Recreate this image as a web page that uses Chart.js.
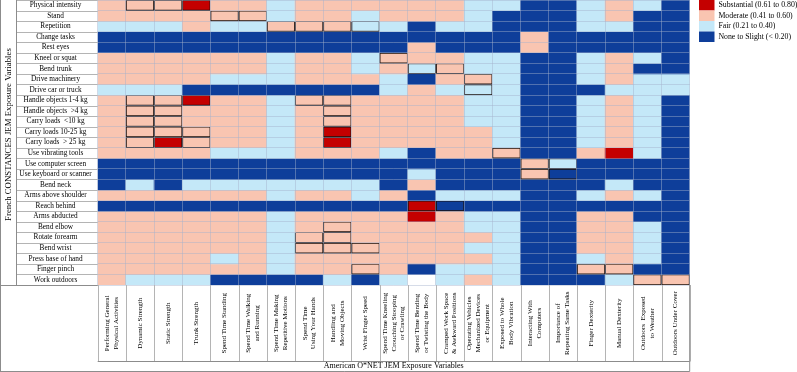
<!DOCTYPE html>
<html>
<head>
<meta charset="utf-8">
<script src="https://cdn.jsdelivr.net/npm/chart.js@4.4.1/dist/chart.umd.min.js"></script>
<style>
  html, body { margin: 0; padding: 0; background: #fff; }
  #wrap { width: 797px; height: 372px; }
</style>
</head>
<body>
<div id="wrap"><canvas id="chart" width="797" height="372"></canvas></div>
<script>
// French CONSTANCES JEM variables (rows)
const rowLabels = [
  'Physical intensity', 'Stand', 'Repetition', 'Change tasks', 'Rest eyes',
  'Kneel or squat', 'Bend trunk', 'Drive machinery', 'Drive car or truck',
  'Handle objects 1-4 kg', 'Handle objects  >4 kg', 'Carry loads  <10 kg',
  'Carry loads 10-25 kg', 'Carry loads  > 25 kg', 'Use vibrating tools',
  'Use computer screen', 'Use keyboard or scanner', 'Bend neck',
  'Arms above shoulder', 'Reach behind', 'Arms abducted', 'Bend elbow',
  'Rotate forearm', 'Bend wrist', 'Press base of hand', 'Finger pinch', 'Work outdoors'
];

// American O*NET JEM variables (columns), one entry per printed line
const colLabels = [
  ['Performing General', 'Physical Activities'],
  ['Dynamic Strength'],
  ['Static Strength'],
  ['Trunk Strength'],
  ['Spend Time Standing'],
  ['Spend Time Walking', 'and Running'],
  ['Spend Time Making', 'Repetitive Motions'],
  ['Spend Time', 'Using Your Hands'],
  ['Handling and', 'Moving Objects'],
  ['Wrist Finger Speed'],
  ['Spend Time Kneeling', 'Crouching Stooping', 'or Crawling'],
  ['Spend Time Bending', 'or Twisting the Body'],
  ['Cramped Work Space', '& Awkward Positions'],
  ['Operating Vehicles', 'Mechanized Devices', 'or Equipment'],
  ['Exposed to Whole', 'Body Vibration'],
  ['Interacting With', 'Computers'],
  ['Importance of', 'Repeating Same Tasks'],
  ['Finger Dexterity'],
  ['Manual Dexterity'],
  ['Outdoors  Exposed', 'to Weather'],
  ['Outdoors Under Cover']
];

const rowTitle = 'French CONSTANCES JEM Exposure Variables';
const colTitle = 'American O*NET JEM Exposure Variables';

const levelNames = ['None to Slight (< 0.20)', 'Fair (0.21 to 0.40)', 'Moderate (0.41 to 0.60)', 'Substantial (0.61 to 0.80)'];
const levelColors = ['#0e3e9a', '#c4e8f8', '#f9c5b1', '#c40000'];

// agreement level per cell: 0 none-slight, 1 fair, 2 moderate, 3 substantial, -1 missing
const agreement = [
  [2,2,2,3,2,2,1,2,2,2,2,2,2,1,1,0,0,1,2,1,0],
  [2,2,2,2,2,2,1,2,2,1,2,2,2,1,0,0,0,1,2,0,0],
  [1,1,1,2,1,1,2,2,2,1,1,0,1,1,0,0,0,1,1,0,0],
  [0,0,0,0,0,0,0,0,0,0,0,0,0,0,0,2,0,0,0,0,0],
  [0,0,0,0,0,0,0,0,0,0,0,2,0,0,0,2,0,0,0,0,0],
  [2,2,2,2,2,2,1,2,2,1,2,2,2,1,1,0,0,1,2,1,0],
  [2,2,2,2,2,2,1,2,2,1,2,1,2,1,1,0,0,1,2,0,0],
  [2,2,2,2,1,1,1,2,2,2,1,0,2,2,1,0,0,1,2,1,1],
  [1,1,1,0,0,0,0,0,0,0,1,2,1,1,1,0,0,0,1,1,1],
  [2,2,2,3,2,2,1,2,2,2,2,2,2,1,1,0,0,1,2,1,0],
  [2,2,2,2,2,2,1,2,2,2,2,2,2,1,1,0,0,1,2,1,0],
  [2,2,2,2,2,2,1,2,2,2,2,2,2,1,1,0,0,1,2,1,0],
  [2,2,2,2,2,2,1,2,3,2,2,2,2,2,1,0,0,1,2,1,0],
  [2,2,3,2,2,2,1,2,3,2,2,2,2,2,1,0,0,1,2,1,0],
  [2,2,2,2,1,1,1,2,2,2,1,0,2,2,2,0,0,2,3,1,0],
  [0,0,0,0,0,0,0,0,0,0,0,0,0,0,0,2,1,0,0,0,0],
  [0,0,0,0,0,0,0,0,0,0,0,1,0,0,0,2,0,0,0,0,0],
  [0,1,0,1,1,1,1,1,1,1,0,2,0,0,0,0,0,0,1,0,0],
  [2,2,2,2,2,2,1,2,2,1,2,0,1,1,1,0,0,1,2,1,0],
  [0,0,0,0,0,0,0,0,0,0,0,3,0,0,0,0,0,0,0,0,0],
  [2,2,2,2,2,2,1,2,2,2,2,3,2,1,1,0,0,2,2,0,0],
  [2,2,2,2,2,2,1,2,2,2,2,2,2,1,1,0,0,2,2,1,0],
  [2,2,2,2,2,2,1,2,2,2,2,2,2,2,1,0,0,2,2,1,0],
  [2,2,2,2,2,2,1,2,2,2,2,2,2,1,1,0,0,2,2,1,0],
  [2,2,2,2,1,2,1,2,2,2,2,2,2,2,1,0,0,1,2,1,0],
  [2,2,2,2,2,2,1,2,2,2,2,0,1,1,1,0,0,2,2,0,0],
  [2,1,1,1,0,0,0,0,1,0,1,-1,1,2,1,0,0,0,1,2,2]
];

// expected matches (cells drawn with a dark outline), column indexes per row
const boxedCells = [
  [1,2,3], [4,5], [6,7,8,9], [], [], [10], [11,12], [13], [13],
  [1,2,3,7,8], [1,2,8], [1,2,8], [1,2,3,8], [1,2,3,8], [14],
  [15,16], [15,16], [], [], [11,12], [], [8], [7,8], [7,8,9], [],
  [9,17,18], [19,20]
];

Chart.defaults.font.family = "'Liberation Serif', 'Times New Roman', serif";
Chart.defaults.color = '#000';

const gridColor = 'rgba(165,178,205,0.45)';

const datasets = rowLabels.map((name, r) => ({
  label: name,
  data: colLabels.map(() => [r, r + 1]),
  backgroundColor: agreement[r].map(v => v < 0 ? '#ffffff' : levelColors[v]),
  borderColor: colLabels.map((_, c) => boxedCells[r].includes(c) ? '#1c120e' : 'rgba(0,0,0,0)'),
  borderWidth: colLabels.map((_, c) => boxedCells[r].includes(c) ? 1.2 : 0),
  borderSkipped: false,
  grouped: false,
  barPercentage: 1,
  categoryPercentage: 1
}));

// table frame, rotated column headings and row-axis title
const tableFrame = {
  id: 'tableFrame',
  afterDraw(chart) {
    const {ctx, chartArea: a, scales} = chart;
    const x = scales.x, y = scales.y;
    const labelLeft = 16.5, headBottom = 361.5, frameBottom = 371.5;
    ctx.save();
    ctx.lineWidth = 1;
    ctx.strokeStyle = '#b4b4b4';
    ctx.beginPath();
    for (let r = 0; r <= rowLabels.length; r++) {
      const py = Math.round(y.getPixelForValue(r)) + 0.5;
      ctx.moveTo(labelLeft, py);
      ctx.lineTo(a.left, py);
    }
    for (let c = 0; c <= colLabels.length; c++) {
      const px = Math.round(x.getPixelForValue(c - 0.5)) + 0.5;
      ctx.moveTo(px, a.bottom);
      ctx.lineTo(px, headBottom);
    }
    ctx.stroke();
    ctx.strokeStyle = '#8c8c8c';
    ctx.beginPath();
    ctx.moveTo(labelLeft, a.top); ctx.lineTo(labelLeft, a.bottom + 0.5);
    ctx.moveTo(0.5, a.top); ctx.lineTo(0.5, frameBottom);
    ctx.moveTo(0, a.bottom + 0.5); ctx.lineTo(a.left, a.bottom + 0.5);
    ctx.moveTo(a.left, headBottom); ctx.lineTo(a.right, headBottom);
    ctx.moveTo(0, frameBottom); ctx.lineTo(a.right, frameBottom);
    ctx.moveTo(a.right, a.bottom); ctx.lineTo(a.right, frameBottom);
    ctx.stroke();

    ctx.fillStyle = '#000';
    ctx.textAlign = 'center';
    ctx.textBaseline = 'middle';

    ctx.save();
    ctx.font = "8.8px 'Liberation Serif', serif";
    ctx.translate(9, 134.5);
    ctx.rotate(-Math.PI / 2);
    ctx.fillText(rowTitle, 0, 0);
    ctx.restore();

    ctx.font = "7px 'Liberation Serif', serif";
    const midY = (a.bottom + headBottom) / 2;
    colLabels.forEach((lines, c) => {
      const px = x.getPixelForValue(c);
      ctx.save();
      ctx.translate(px, midY);
      ctx.rotate(-Math.PI / 2);
      lines.forEach((t, k) => ctx.fillText(t, 0, (k - (lines.length - 1) / 2) * 8.8));
      ctx.restore();
    });
    ctx.restore();
  }
};

new Chart(document.getElementById('chart'), {
  type: 'bar',
  data: { labels: colLabels.map(l => l.join(' ')), datasets },
  options: {
    responsive: false,
    animation: false,
    layout: { padding: 0 },
    plugins: {
      tooltip: { enabled: false },
      legend: {
        position: 'right',
        align: 'start',
        maxWidth: 98,
        onClick: null,
        labels: {
          boxWidth: 15.5,
          boxHeight: 10.5,
          padding: 0,
          color: '#000',
          font: { size: 7.8 },
          generateLabels: () => [3, 2, 1, 0].map(i => ({
            text: levelNames[i],
            fillStyle: levelColors[i],
            strokeStyle: levelColors[i],
            lineWidth: 0,
            hidden: false
          }))
        }
      }
    },
    scales: {
      x: {
        type: 'category',
        offset: true,
        grid: { offset: true, color: gridColor, drawTicks: false, z: 1 },
        border: { display: false },
        ticks: { display: false },
        title: {
          display: true,
          text: colTitle,
          font: { size: 8 },
          padding: { top: 0, bottom: 1 }
        },
        afterFit: s => { s.height = 87; }
      },
      y: {
        type: 'linear',
        display: false,
        min: 0,
        max: rowLabels.length,
        reverse: true
      },
      rows: {
        type: 'category',
        position: 'left',
        labels: rowLabels,
        offset: true,
        grid: { offset: true, color: gridColor, drawTicks: false, z: 1 },
        border: { display: false },
        ticks: { crossAlign: 'center', padding: 6, autoSkip: false, font: { size: 7.3 } },
        afterFit: s => { s.width = 97.7; s.paddingTop = 0; s.paddingBottom = 0; }
      },
      pad: {
        type: 'linear',
        position: 'right',
        ticks: { display: false },
        grid: { display: false, drawTicks: false },
        border: { display: false },
        afterFit: s => { s.width = 9.3; }
      }
    }
  },
  plugins: [tableFrame]
});
</script>
</body>
</html>
